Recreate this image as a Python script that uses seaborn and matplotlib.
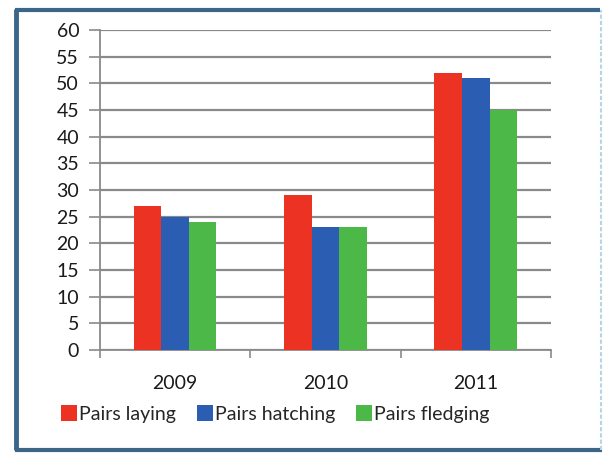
import matplotlib
matplotlib.use("Agg")
import matplotlib.pyplot as plt
from matplotlib.lines import Line2D
import seaborn as sns
import pandas as pd

years = ["2009", "2010", "2011"]
series = ["Pairs laying", "Pairs hatching", "Pairs fledging"]
pairs_laying = [27, 29, 52]
pairs_hatching = [25, 23, 51]
pairs_fledging = [24, 23, 45]
colors = ["#ec3223", "#2b5db2", "#4cb848"]

rows = []
for s, vals in zip(series, [pairs_laying, pairs_hatching, pairs_fledging]):
    for y, v in zip(years, vals):
        rows.append({"Year": y, "Series": s, "Pairs": v})
df = pd.DataFrame(rows)

sns.set_theme(style="white")
plt.rcParams["font.family"] = ["Lato", "DejaVu Sans"]

fig = plt.figure(figsize=(6.07, 4.53), dpi=100)
fig.patch.set_facecolor("white")
ax = fig.add_axes([0.1647, 0.2274, 0.743, 0.7064])

sns.barplot(data=df, x="Year", y="Pairs", hue="Series", hue_order=series,
            order=years, palette=colors, width=0.55, gap=0, saturation=1,
            errorbar=None, legend=False, ax=ax, zorder=3)
for p in ax.patches:
    p.set_linewidth(0)

ax.set_ylim(0, 60)
ax.set_xlim(-0.5, 2.5)
ax.set_yticks(range(0, 61, 5))
ax.yaxis.grid(True, color="#8a8a8a", linewidth=1.6, zorder=0)
ax.set_axisbelow(True)
ax.set_xlabel("")
ax.set_ylabel("")

for side in ["top", "right"]:
    ax.spines[side].set_visible(False)
ax.spines["left"].set_color("#8a8a8a")
ax.spines["left"].set_linewidth(1.3)
ax.spines["bottom"].set_color("#8a8a8a")
ax.spines["bottom"].set_linewidth(1.3)

ax.tick_params(axis="y", which="major", length=8, width=1.2, color="#8a8a8a",
               labelsize=14, labelcolor="#1a1a1a", pad=7, left=True)
ax.set_xticks([-0.5, 0.5, 1.5, 2.5], minor=True)
ax.tick_params(axis="x", which="minor", length=6, width=1.2, color="#8a8a8a", bottom=True)
ax.tick_params(axis="x", which="major", length=0, labelsize=14,
               labelcolor="#1a1a1a", pad=18)

handles = [Line2D([0], [0], marker="s", linestyle="none", markersize=11,
                  markerfacecolor=c, markeredgewidth=0) for c in colors]
fig.legend(handles, series, loc="center", bbox_to_anchor=(0.452, 0.086),
           ncol=3, frameon=False, prop={"size": 14},
           handletextpad=0.0, columnspacing=1.0, handlelength=1.0)

# outer frame: dark on left, top and bottom, pale on the right
frame = "#3b6687"
fig.add_artist(Line2D([0.026, 0.026], [0.007, 0.98], transform=fig.transFigure,
                      color=frame, linewidth=3.5, solid_capstyle="butt"))
fig.add_artist(Line2D([0.024, 0.988], [0.979, 0.979], transform=fig.transFigure,
                      color=frame, linewidth=3.0, solid_capstyle="butt"))
fig.add_artist(Line2D([0.024, 0.992], [0.007, 0.007], transform=fig.transFigure,
                      color=frame, linewidth=3.0, solid_capstyle="butt"))
fig.add_artist(Line2D([0.990, 0.990], [0.007, 0.979], transform=fig.transFigure,
                      color="#b9d3e6", linewidth=1.5, linestyle=(0, (2, 1))))

fig.savefig("out.png", dpi=100, facecolor="white")
